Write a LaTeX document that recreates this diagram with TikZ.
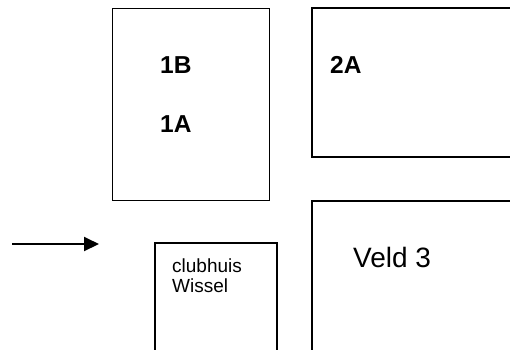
\documentclass[tikz,border=0pt]{standalone}
\usepackage{fontspec}
\setmainfont{Liberation Sans}
\usetikzlibrary{arrows.meta}
\begin{document}
\begin{tikzpicture}[x=1pt,y=-1pt,
  wall/.style={line width=1.1pt, line join=miter},
  lbl/.style={anchor=base west, inner sep=0pt},
  big/.style={lbl, font=\bfseries\fontsize{24.5}{27}\selectfont},
  veld/.style={lbl, font=\fontsize{28}{31}\selectfont},
  small/.style={lbl, align=left, font=\fontsize{19}{20}\selectfont},
  pointer/.style={line width=2pt, -{Triangle[length=15pt,width=14pt]}}]
\useasboundingbox (0,0) rectangle (510,349);
% field 1
\node[draw, wall, minimum width=157pt, minimum height=192pt, anchor=north west, inner sep=0pt] (f1) at (112,8) {};
\node[big] (t1b) at (160,73) {1B};
\node[big] (t1a) at (160,132) {1A};
% field 2A (open to the right)
\coordinate (f2a) at (512,8);
\coordinate (f2b) at (312,8);
\coordinate (f2c) at (312,157);
\coordinate (f2d) at (512,157);
\draw[wall] (f2a) -- (f2b) -- (f2c) -- (f2d);
\node[big] (t2a) at (330,73) {2A};
% Veld 3 (open to the right and bottom)
\coordinate (v3a) at (512,201);
\coordinate (v3b) at (312,201);
\coordinate (v3c) at (312,352);
\draw[wall] (v3a) -- (v3b) -- (v3c);
\node[veld] (tv3) at (353,267) {Veld 3};
% clubhuis (open at the bottom)
\coordinate (c1) at (155,352);
\coordinate (c2) at (155,243);
\coordinate (c3) at (277,243);
\coordinate (c4) at (277,352);
\draw[wall] (c1) -- (c2) -- (c3) -- (c4);
\node[small] (tch) at (172,292) {clubhuis\\Wissel};
% arrow
\coordinate (as) at (12,244);
\coordinate (ae) at (99,244);
\draw[pointer] (as) -- (ae);
\end{tikzpicture}
\end{document}
